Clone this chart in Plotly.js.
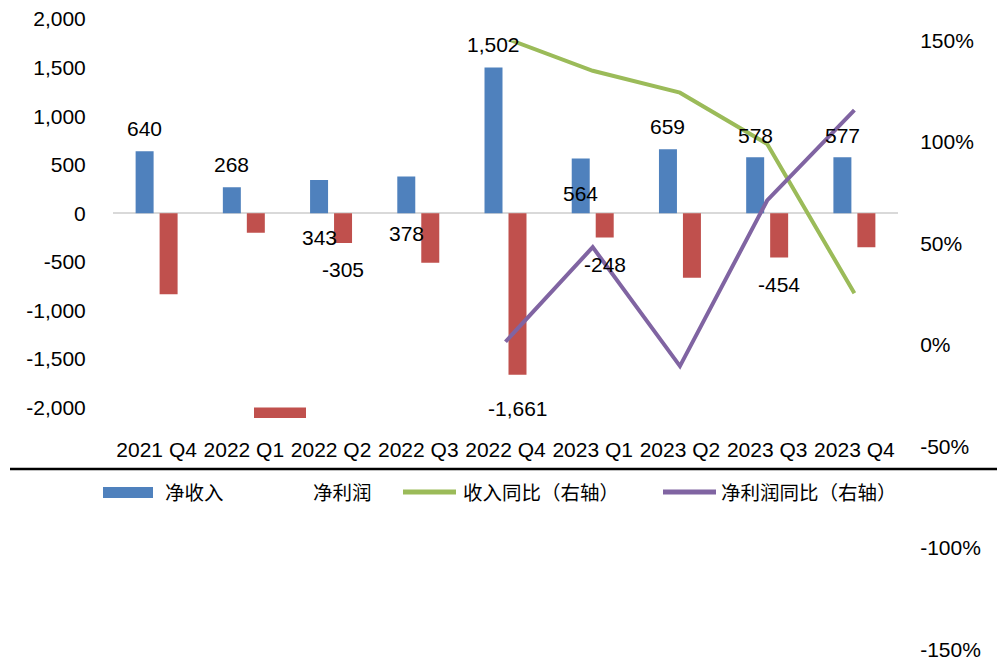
<!DOCTYPE html>
<html>
<head>
<meta charset="utf-8">
<script src="https://cdn.plot.ly/plotly-3.0.1.min.js"></script>
<style>
  html, body { margin: 0; padding: 0; background: #fff; }
  #chart { width: 1006px; height: 661px; }
</style>
</head>
<body>
<div id="chart"></div>
<script>
// ---------------- data ----------------
const categories = ['2021 Q4', '2022 Q1', '2022 Q2', '2022 Q3', '2022 Q4', '2023 Q1', '2023 Q2', '2023 Q3', '2023 Q4'];
const netRevenue = [640, 268, 343, 378, 1502, 564, 659, 578, 577];
const netProfit = [-833, -200, -305, -508, -1661, -248, -663, -454, -350];
const revenueYoY = [null, null, null, null, 151.1, 135.1, 124.3, 99.0, 25.5];
const profitYoY = [null, null, null, null, 1.6, 48.2, -10.4, 71.2, 115.7];
const revenueLabels = ['640', '268', '343', '378', '1,502', '564', '659', '578', '577'];
const profitLabels = [null, null, '-305', null, '-1,661', '-248', null, '-454', null];
const leftTickVals = [-2000, -1500, -1000, -500, 0, 500, 1000, 1500, 2000];
const leftTickText = ['-2,000', '-1,500', '-1,000', '-500', '0', '500', '1,000', '1,500', '2,000'];
const rightTickVals = [-150, -100, -50, 0, 50, 100, 150];
const rightTickText = ['-150%', '-100%', '-50%', '0%', '50%', '100%', '150%'];
const seriesNames = ['净收入', '净利润', '收入同比（右轴）', '净利润同比（右轴）'];

// ---------------- styles ----------------
const W = 1006, H = 661;
const COLORS = { rev: '#4F81BD', profit: '#C0504D', revYoY: '#9BBB59', profitYoY: '#8064A2' };
const NUM_FONT = { family: '"Liberation Sans", Arial, sans-serif', size: 21, color: '#000' };
const CJK_FONT = { family: '"Noto Sans CJK SC", sans-serif', size: 19.5, color: '#000' };
// label vertical offsets in px (style, relative to the bar end)
const revenueLabelShift = [23, 23, -57, -57, 23, -35, 23, 22, 22];
const profitLabelShift = [0, 0, -27, 0, -34, -27, 0, -27, 0];
const BAR_OFFSET = 12; // px from category centre to each bar centre

const px = v => v / W;
const py = v => 1 - v / H;

const traces = [
  { type: 'bar', name: seriesNames[0], x: categories, y: netRevenue,
    marker: { color: COLORS.rev }, xaxis: 'x', yaxis: 'y', showlegend: false },
  { type: 'bar', name: seriesNames[1], x: categories, y: netProfit,
    marker: { color: COLORS.profit }, xaxis: 'x', yaxis: 'y', showlegend: false },
  { type: 'scatter', mode: 'lines', name: seriesNames[2], x: categories, y: revenueYoY,
    line: { color: COLORS.revYoY, width: 4 }, xaxis: 'x', yaxis: 'y2', showlegend: false },
  { type: 'scatter', mode: 'lines', name: seriesNames[3], x: categories, y: profitYoY,
    line: { color: COLORS.profitYoY, width: 4 }, xaxis: 'x', yaxis: 'y2', showlegend: false }
];

const annotations = [];
categories.forEach((c, i) => {
  if (revenueLabels[i] !== null) {
    annotations.push({ x: c, y: netRevenue[i], xref: 'x', yref: 'y', text: revenueLabels[i],
      showarrow: false, xanchor: 'center', yanchor: 'middle',
      xshift: -BAR_OFFSET, yshift: revenueLabelShift[i], font: NUM_FONT });
  }
  if (profitLabels[i] !== null) {
    annotations.push({ x: c, y: netProfit[i], xref: 'x', yref: 'y', text: profitLabels[i],
      showarrow: false, xanchor: 'center', yanchor: 'middle',
      xshift: BAR_OFFSET, yshift: profitLabelShift[i], font: NUM_FONT });
  }
});

// manual legend row
const legendY = 492;
const legendText = [
  { name: seriesNames[0], x: 163 },
  { name: seriesNames[1], x: 311 },
  { name: seriesNames[2], x: 461 },
  { name: seriesNames[3], x: 719 }
];
legendText.forEach(t => annotations.push({
  xref: 'paper', yref: 'paper', x: px(t.x), y: py(legendY), text: t.name,
  showarrow: false, xanchor: 'left', yanchor: 'middle', font: CJK_FONT
}));

const shapes = [
  // separator line under the axis labels
  { type: 'line', xref: 'paper', yref: 'paper', x0: px(10), x1: px(997), y0: py(469), y1: py(469),
    line: { color: '#000', width: 2.5 } },
  // legend keys
  { type: 'rect', xref: 'paper', yref: 'paper', x0: px(103), x1: px(153), y0: py(498), y1: py(487),
    fillcolor: COLORS.rev, line: { width: 0 } },
  { type: 'rect', xref: 'paper', yref: 'paper', x0: px(254), x1: px(306), y0: py(418), y1: py(407.5),
    fillcolor: COLORS.profit, line: { width: 0 } },
  { type: 'line', xref: 'paper', yref: 'paper', x0: px(403), x1: px(456), y0: py(legendY), y1: py(legendY),
    line: { color: COLORS.revYoY, width: 5 } },
  { type: 'line', xref: 'paper', yref: 'paper', x0: px(663), x1: px(716), y0: py(legendY), y1: py(legendY),
    line: { color: COLORS.profitYoY, width: 5 } }
];

const layout = {
  width: W, height: H,
  margin: { l: 0, r: 0, t: 0, b: 0, pad: 0 },
  paper_bgcolor: '#fff', plot_bgcolor: 'rgba(0,0,0,0)',
  showlegend: false,
  barmode: 'group', bargap: 0.45, bargroupgap: 0.25,
  xaxis: {
    type: 'category', domain: [px(113), px(898)], anchor: 'y',
    showgrid: false, showline: false, zeroline: false,
    ticks: 'outside', ticklen: 23, tickcolor: 'rgba(0,0,0,0)',
    tickfont: NUM_FONT, automargin: false
  },
  yaxis: {
    domain: [py(407.7), py(19)], range: [-2000, 2000],
    tickvals: leftTickVals, ticktext: leftTickText,
    showgrid: false, showline: false,
    zeroline: true, zerolinecolor: '#D9D9D9', zerolinewidth: 2,
    ticks: 'outside', ticklen: 22, tickcolor: 'rgba(0,0,0,0)',
    tickfont: NUM_FONT, automargin: false
  },
  yaxis2: {
    domain: [py(649.5), py(40.5)], range: [-150, 150], anchor: 'x', side: 'right',
    tickvals: rightTickVals, ticktext: rightTickText,
    showgrid: false, showline: false, zeroline: false,
    ticks: 'outside', ticklen: 17, tickcolor: 'rgba(0,0,0,0)',
    tickfont: NUM_FONT, automargin: false
  },
  annotations: annotations,
  shapes: shapes
};

Plotly.newPlot('chart', traces, layout, { displayModeBar: false, staticPlot: true });
</script>
</body>
</html>
